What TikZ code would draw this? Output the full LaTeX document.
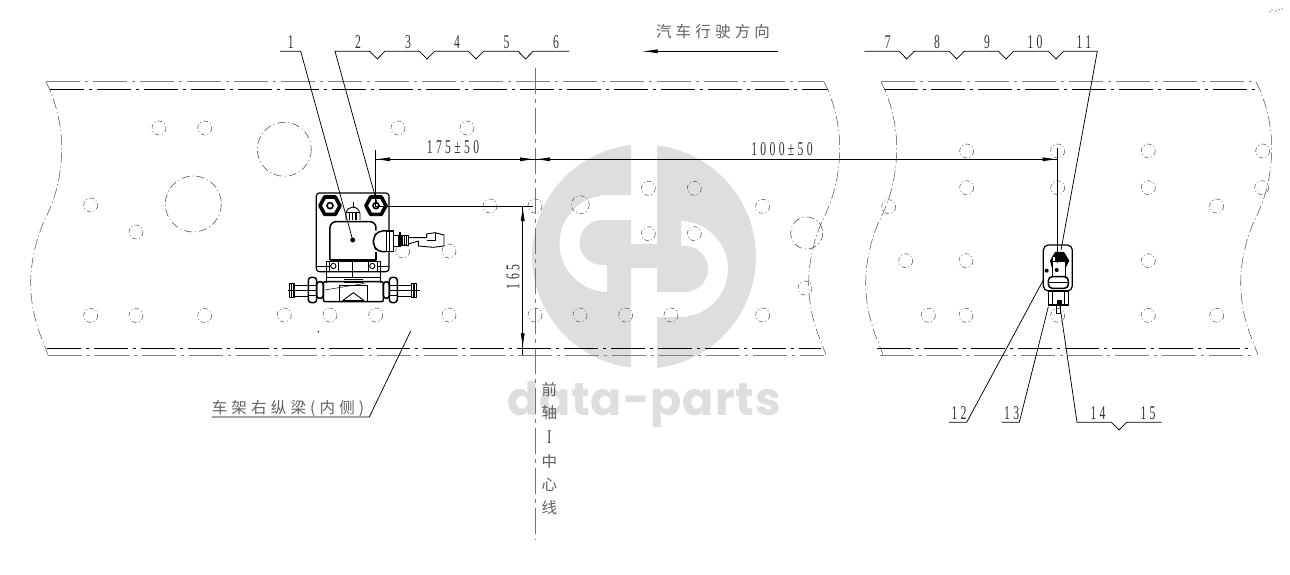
\documentclass[tikz,border=0pt]{standalone}
\usepackage{fontspec}
\usetikzlibrary{arrows.meta}
\newfontfamily\cjk[LetterSpace=27]{Noto Sans CJK SC}
\newfontfamily\cjkv{Noto Sans CJK SC}
\newfontfamily\numf[FakeStretch=0.6,LetterSpace=17]{Liberation Serif}
\newfontfamily\wmf[LetterSpace=2]{Poppins}
\definecolor{wmgray}{HTML}{DEDEDE}
\tikzset{
  outerline/.style={line width=1pt,black!50,dash pattern=on 34pt off 5pt on 3pt off 5pt},
  innerline/.style={line width=1pt,black,dash pattern=on 34pt off 5pt on 3pt off 5pt},
  breakline/.style={line width=.5pt,black!70,dash pattern=on 11pt off 3pt on 1.2pt off 3pt},
  hole/.style={line width=.55pt,black!65,dash pattern=on 4.5pt off 2.5pt on 1pt off 2.5pt},
  bighole/.style={line width=.55pt,black!70,dash pattern=on 8pt off 3pt on 1pt off 3pt},
  leader/.style={line width=.75pt,black},
  dimline/.style={line width=.75pt,black},
  centre/.style={line width=.9pt,black!55,dash pattern=on 26pt off 5pt on 4pt off 5pt},
  arrowtip/.style={-{Latex[length=15pt,width=4pt]}},
  num/.style={font=\numf\fontsize{19.5}{19.5}\selectfont,inner sep=0pt,black!80},
  hanzi/.style={font=\cjk\fontsize{15.5}{16}\selectfont,inner sep=0pt,black!62},
  hanziv/.style={font=\cjkv\fontsize{15.5}{16}\selectfont,inner sep=0pt,black!62},
  part/.style={line width=.9pt,black,line join=round},
  heavy/.style={line width=1.5pt,black,line join=round},
  fine/.style={line width=.5pt,black},
  nut/.style={line width=3.6pt,black,line join=round,fill=white},
}
\newcommand{\breakcurve}[1]{%
  \draw[breakline,xshift=#1pt] (46,82) -- (50,90) .. controls (58,110) and (62,130) .. (61.7,150)
    .. controls (61,185) and (52,205) .. (43.3,223)
    .. controls (36,240) and (30.7,262) .. (30.7,283)
    .. controls (30.7,310) and (38,330) .. (45,347) -- (48,355);}
\begin{document}
\begin{tikzpicture}[x=1pt,y=-1pt]
\useasboundingbox (0,0) rectangle (1290,575);
\fill[white] (0,0) rectangle (1290,575);
% watermark
\fill[wmgray] (631,145) arc[start angle=263.3,end angle=96.7,radius=112]
  -- (631,268) -- (657,268) -- (657,292) -- (685,292)
  arc[start angle=90,end angle=-90,radius=23]
  -- (681,246) -- (681,221) -- (680,221)
  arc[start angle=-90,end angle=90,radius=48]
  -- (657,317) -- (657,368)
  arc[start angle=83.3,end angle=-83.3,radius=112]
  -- (657,244) -- (631,244) -- (631,220) -- (602,220)
  arc[start angle=270,end angle=90,radius=22.5]
  -- (607,265) -- (607,292) -- (608,292)
  arc[start angle=90,end angle=270,radius=48.5]
  -- (631,195) -- cycle;
\node[anchor=base,inner sep=0pt,text=wmgray,font=\wmf\fontsize{46}{46}\selectfont\bfseries] (wm) at (644,415) {data-parts};
% beams
\draw[outerline] (46,82) -- (824,82);
\draw[innerline] (50,89.3) -- (828,89.3);
\draw[innerline] (47,348.3) -- (821,348.3);
\draw[outerline] (48,355) -- (824,355);
\draw[outerline] (881,82) -- (1256,82);
\draw[innerline] (884,89.3) -- (1259,89.3);
\draw[innerline] (877,348.3) -- (1252,348.3);
\draw[outerline] (880,355) -- (1255,355);
\breakcurve{0}\breakcurve{778}\breakcurve{835}\breakcurve{1210}
% holes
\foreach \x/\y in {159/128,204.7/128,398/128,467/128,90.7/205,136/232,
  90.7/315.5,136/315.5,204.7/315.5,284.3/315,330/315,375.7/315,449/315,535/315,
  625.7/315,671/315,762.7/315,535/206,490/206,648.3/188.3,694.3/188.3,762.7/206.3,
  648.3/233.7,694.3/233.7,402.7/251,449/251,805/288,888.7/206.7,
  966.7/151,1057.7/151,1148.3/151,1262.7/151,966.7/187.7,1057.7/187.7,1148.3/187.7,
  1261.7/187.7,1216.7/206,905.7/260.7,966/260.7,1148.3/260.7,928.3/315.3,966/315.3,
  1057.7/315.3,1148.3/315.3,1216.7/315.3,580/315}
  \draw[hole] (\x,\y) circle[radius=7];
\draw[hole] (580.3,204.7) circle[radius=9];
\draw[bighole] (284.3,149.3) circle[radius=27];
\draw[bighole] (193.3,204) circle[radius=28];
\draw[bighole] (806.7,233) circle[radius=16];
% centre line
\coordinate (ctop) at (535,68);
\coordinate (cbot) at (535,540);
\draw[centre] (ctop) -- (cbot);
% part A: solenoid valve
\begin{scope}[shift={(270,170)},x=.3333pt,y=-.3333pt]
  \draw[part,line width=1.2pt,rounded corners=3pt] (139,305) -- (139,69) -- (357,69) -- (357,305) -- cycle;
  \draw[part] (139,290) -- (180,290) (320,290) -- (357,290);
  \foreach \c in {180,318}{
    \draw[nut] (\c-30,107) -- (\c-16,81) -- (\c+16,81) -- (\c+30,107) -- (\c+16,133) -- (\c-16,133) -- cycle;
    \draw[line width=1.6pt,fill=white] (\c,107) circle[radius=9];
  }
  \draw[part] (228,150) -- (228,130) .. controls (232,105) and (264,105) .. (270,130) -- (270,150);
  \draw[part,line width=1.2pt] (228,128) -- (270,128) (238,130) -- (238,150) (248,130) -- (248,150) (258,130) -- (258,150);
  \draw[fine] (249,95) -- (249,115);
  \draw[heavy,rounded corners=6pt] (180,270) -- (180,155) -- (318,155) -- (318,182);
  \draw[heavy] (180,270) -- (318,270) -- (318,245);
  \draw[heavy,rounded corners=5pt] (350,183) -- (322,183) -- (310,205) -- (310,225) -- (322,245) -- (350,245);
  \draw[heavy,fill=white] (350,183) rectangle (370,245);
  \draw[part] (358,183) -- (358,245);
  \draw[part] (370,195) -- (384,195) -- (384,230) -- (370,230);
  \draw[line width=1.3pt] (390,187) -- (390,232);
  \draw[part] (393,197) rectangle (416,225);
  \draw[line width=1.2pt] (398,197) -- (398,225) (404,197) -- (404,225) (410,197) -- (410,225);
  \draw[part] (416,203) -- (470,203) -- (470,192) -- (495,188) -- (522,195) -- (522,228) -- (490,232) -- (445,228) -- (445,213) -- (416,222);
  \draw[part] (470,212) -- (495,212) -- (495,190);
  % lower body
  \draw[part] (170,340) -- (170,275) -- (330,275) -- (330,340);
  \draw[part] (180,305) -- (320,305) (170,322) -- (330,322);
  \draw[part,fill=white] (177,275) rectangle (205,305);
  \draw[part,fill=white] (295,275) rectangle (323,305);
  \draw[part] (190,288) circle[radius=8] (307,288) circle[radius=8];
  \draw[part] (222,328) -- (278,328) (222,338) -- (278,338);
  \draw[fine] (248,275) -- (248,322);
  % fittings
  \draw[heavy,rounded corners=2pt] (160,335) rectangle (340,395);
  \draw[part] (208,345) -- (208,395) (292,345) -- (292,395);
  \draw[part] (208,345) -- (292,345);
  \draw[part] (218,392) -- (250,368) -- (282,392) -- cycle;
  \draw[fine] (165,360) -- (285,340);
  \draw[heavy,rounded corners=3pt] (115,322) rectangle (140,398);
  \draw[part] (115,345) -- (140,345) (115,375) -- (140,375);
  \draw[heavy,rounded corners=3pt] (140,335) rectangle (160,385);
  \draw[heavy,rounded corners=3pt] (358,322) rectangle (382,398);
  \draw[part] (358,345) -- (382,345) (358,375) -- (382,375);
  \draw[heavy,rounded corners=3pt] (340,335) rectangle (358,385);
  \draw[part] (72,345) rectangle (115,378) (382,345) rectangle (425,378);
  \draw[heavy] (58,340) rectangle (72,382) (425,340) rectangle (440,382);
  \draw[line width=1.1pt] (64,340) -- (64,382) (432,340) -- (432,382);
  \draw[fine] (55,360) -- (140,360) (360,360) -- (450,360);
\end{scope}
% part B: small device
\begin{scope}[shift={(1010,230)},x=.3333pt,y=-.3333pt]
  \draw[line width=1.2pt,rounded corners=5pt] (100,183) -- (100,45) -- (187,45) -- (187,183) -- cycle;
  \fill[black,line join=round] (120,92) -- (135,66) -- (162,66) -- (178,92) -- (168,112) -- (125,112) -- cycle;
  \draw[part,fill=white] (128,95) rectangle (165,150);
  \fill[white] (128,80) rectangle (136,92);
  \fill (140,120) circle[radius=6];
  \fill (110,122) circle[radius=6];
  \draw[heavy,rounded corners=4pt,fill=white] (115,140) rectangle (175,175);
  \draw[part] (115,157) -- (175,157);
  \draw[heavy] (115,183) rectangle (175,225);
  \draw[part] (128,183) -- (128,225) (162,183) -- (162,225);
  \fill (140,210) rectangle (155,222);
  \draw[part] (138,225) rectangle (152,250);
\end{scope}
% dimensions
\coordinate (ea) at (375,206);
\coordinate (ea0) at (375,150);
\coordinate (eb0) at (1057.7,148);
\coordinate (eb) at (1057.7,263);
\coordinate (da) at (375,159.3);
\coordinate (dc) at (535,159.3);
\coordinate (db) at (1057.7,159.3);
\coordinate (vt) at (522.7,206);
\coordinate (vb) at (522.7,348.3);
\coordinate (ve) at (533,206);
\draw[dimline] (ea0) -- (ea) -- (ve);
\draw[dimline] (eb0) -- (eb);
\draw[dimline,arrowtip] (dc) -- (da);
\draw[dimline,arrowtip] (da) -- (dc);
\draw[dimline,arrowtip] (db) -- (dc);
\draw[dimline,arrowtip] (dc) -- (db);
\draw[dimline,arrowtip] (vb) -- (vt);
\draw[dimline,arrowtip] (vt) -- (vb);
\draw[dimline] (vb) -- (522.7,355);
\draw[line width=1pt] (519,348.3) -- (538,348.3);
\node[num] (d175) at (453,147.5) {175±50};
\node[num] (d1000) at (782,149) {1000±50};
\node[num,rotate=90] (d165) at (513,277) {165};
% leaders top-left
\coordinate (l1a) at (280,51.3);
\coordinate (l1b) at (300.7,51.3);
\coordinate (l1c) at (352.7,240);
\draw[leader] (l1a) -- (l1b) -- (l1c);
\coordinate (l2a) at (335,51.3);
\coordinate (l2e) at (569,51.3);
\coordinate (l2c) at (377,203);
\draw[leader] (l2c) -- (l2a) -- (369.8,51.3) -- (377.3,59) -- (384.8,51.3) -- (419.5,51.3) -- (427,59) -- (434.5,51.3)
  -- (468.5,51.3) -- (476,59) -- (483.5,51.3) -- (518.1,51.3) -- (525.6,59) -- (533.1,51.3) -- (l2e);
\fill (l1c) circle[radius=2.5];
\foreach \n/\x in {1/290.7,2/358,3/408,4/457,5/506.5,6/556}
  \node[num] (t\n) at (\x,42) {\n};
% leaders top-right
\coordinate (r1a) at (864.3,51.3);
\coordinate (r1b) at (1097.3,51.3);
\coordinate (r1c) at (1061,250);
\draw[leader] (r1a) -- (899.2,51.3) -- (906.7,59) -- (914.2,51.3) -- (949.2,51.3) -- (956.7,59) -- (964.2,51.3)
  -- (998.5,51.3) -- (1006,59) -- (1013.5,51.3) -- (1048.5,51.3) -- (1056,59) -- (1063.5,51.3) -- (r1b) -- (r1c);
\foreach \n/\x in {7/887.7,8/937,9/987,10/1035,11/1084}
  \node[num] (t\n) at (\x,42) {\n};
% leaders bottom-right
\coordinate (a12) at (949,422.3);
\coordinate (b12) at (966.7,422.3);
\coordinate (c12) at (1043.3,280);
\draw[leader] (a12) -- (b12) -- (c12);
\coordinate (a13) at (1001.7,422.3);
\coordinate (b13) at (1019.3,422.3);
\coordinate (c13) at (1048.3,306.7);
\draw[leader] (a13) -- (b13) -- (c13);
\coordinate (a14) at (1161.7,422.3);
\coordinate (b14) at (1077,422.3);
\coordinate (c14) at (1059.3,301.7);
\draw[leader] (c14) -- (b14) -- (1111.5,422.3) -- (1119,430) -- (1126.5,422.3) -- (a14);
\foreach \n/\x in {12/959,13/1011.7,14/1098,15/1148}
  \node[num] (t\n) at (\x,413.5) {\n};
% frame label
\coordinate (fa) at (211.7,417);
\coordinate (fb) at (369.3,417);
\coordinate (fc) at (410.7,331);
\draw[leader] (fa) -- (fb) -- (fc);
\node[hanzi] (frame) at (288,408) {车架右纵梁(内侧)};
% direction
\coordinate (dira) at (778,51.3);
\coordinate (dirb) at (641.7,51.3);
\draw[dimline,-{Latex[length=16pt,width=4pt]}] (dira) -- (dirb);
\node[hanzi] (dir) at (713,31.7) {汽车行驶方向};
% vertical label
\node[hanziv] (v1) at (549.3,390) {前};
\node[hanziv] (v2) at (549.3,413) {轴};
\node[num] (v3) at (549.3,437) {I};
\node[hanziv] (v4) at (549.3,461.7) {中};
\node[hanziv] (v5) at (549.3,485) {心};
\node[hanziv] (v6) at (549.3,507.7) {线};
% specks
\fill[black] (318.3,331.7) circle[radius=.8];
\fill[black!40] (1270,12) circle[radius=.9] (1272,10) circle[radius=.9] (1276,11) circle[radius=.8] (1279,9.5) circle[radius=.8] (1282,9) circle[radius=.8];
\end{tikzpicture}
\end{document}
